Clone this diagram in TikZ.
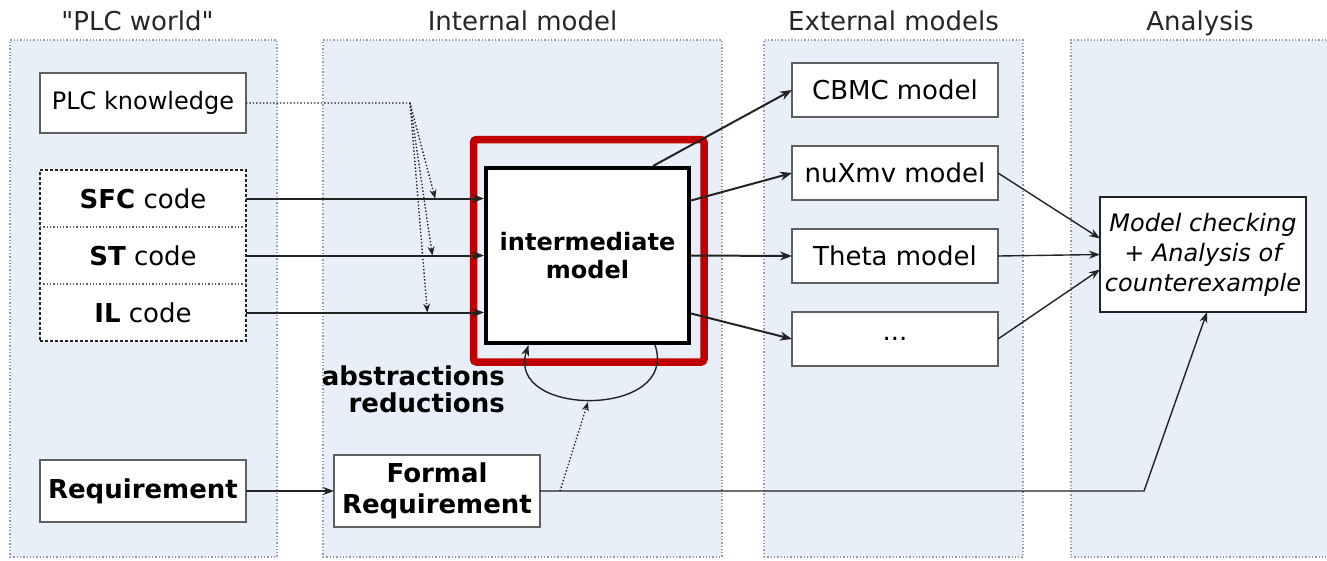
\documentclass[tikz,border=0pt]{standalone}
\usepackage{fontspec}
\setmainfont{DejaVu Sans}
\usetikzlibrary{arrows.meta, positioning, fit, calc}
\definecolor{colPanel}    {RGB}{232,239,248}
\definecolor{colPanelEdge}{RGB}{150,156,166}
\definecolor{colEdge}     {RGB}{95,95,95}
\definecolor{colLine}     {RGB}{35,35,35}
\definecolor{colHilite}   {RGB}{192,0,0}
\newcommand{\fsz}[2]{\fontsize{#1}{#2}\selectfont}
\tikzset{
  panel/.style   = {draw=colPanelEdge, dotted, line width=1.3pt, fill=colPanel,
                    inner sep=0pt},
  head/.style    = {anchor=base, inner sep=0pt, font=\fsz{26}{26}, text=black!85},
  box/.style     = {draw=colEdge, line width=1.5pt, fill=white, minimum width=206pt,
                    minimum height=57pt, inner sep=2pt, outer sep=0pt, align=center},
  codebox/.style = {box, draw=none, font=\fsz{26}{26}},
  extbox/.style  = {box, minimum height=54pt, font=\fsz{26}{26}},
  reqbox/.style  = {box, font=\bfseries\fsz{26}{31}},
  core/.style    = {draw=black, line width=4pt, fill=white, minimum width=203pt,
                    minimum height=175pt, align=center, font=\bfseries\fsz{24}{28}},
  hilite/.style  = {draw=colHilite, line width=7.5pt, rounded corners=3pt},
  arr/.style     = {-{Stealth[length=12pt, width=9pt]}, line width=2pt, colLine},
  thinarr/.style = {-{Stealth[length=11pt, width=8pt]}, line width=1.4pt, colLine},
  know/.style    = {-{Stealth[length=9pt, width=7pt]}, dotted, line width=1.4pt, colLine},
}

\begin{document}
\begin{tikzpicture}[x=1pt, y=-1pt]
\useasboundingbox (0,0) rectangle (1327,560);

%% ── panels ──────────────────────────────────────────────────────────────────
\node[panel, minimum width=267pt, minimum height=517pt] (pWorld)    at (143.5,298.5) {};
\node[panel, minimum width=399pt, minimum height=517pt] (pInternal) at (522.5,298.5) {};
\node[panel, minimum width=259pt, minimum height=517pt] (pExternal) at (893.5,298.5) {};
\node[panel, minimum width=270pt, minimum height=517pt] (pAnalysis) at (1206,298.5) {};

\node[head] (tWorld)    at ([xshift=-6pt, yshift=9pt]pWorld.north)
  {\textquotedbl PLC world\textquotedbl};
\node[head] (tInternal) at ([yshift=9pt]pInternal.north)              {Internal model};
\node[head] (tExternal) at ([yshift=9pt]pExternal.north)              {External models};
\node[head] (tAnalysis) at ([xshift=-6pt, yshift=9pt]pAnalysis.north) {Analysis};

%% ── "PLC world" ─────────────────────────────────────────────────────────────
\node[box, minimum height=60pt, font=\fsz{24}{24}] (plcKnow) at (143,103) {PLC knowledge};

\node[codebox] (sfc) at (143,198.5) {\textbf{SFC} code};
\node[codebox, below=0pt of sfc] (st) {\textbf{ST} code};
\node[codebox, below=0pt of st]  (il) {\textbf{IL} code};
\node[draw=colLine, densely dashed, line width=1.3pt, inner sep=0pt,
      fit=(sfc)(st)(il)] (code) {};
\draw[colEdge, dotted, line width=1.3pt]
  (sfc.south west) -- (sfc.south east)
  (st.south west)  -- (st.south east);

\node[reqbox, minimum height=62pt] (req) at (143,491) {Requirement};

%% ── Internal model ──────────────────────────────────────────────────────────
\node[core] (imodel) at (587.5,255.5) {intermediate\\model};
\draw[hilite] (473.5,139.5) rectangle (704,362);

\node[reqbox, minimum height=72pt] (formReq) at (437,491) {Formal\\Requirement};

\node[font=\bfseries\fsz{26}{27}, align=right, anchor=north east, inner sep=0pt]
  (absLbl) at (505,366) {abstractions\\reductions};

%% ── External models ─────────────────────────────────────────────────────────
\node[extbox] (cbmc) at (895,90) {CBMC model};
\node[extbox, below=29pt of cbmc]  (nuxmv) {nuXmv model};
\node[extbox, below=29pt of nuxmv] (theta) {Theta model};
\node[extbox, below=29pt of theta] (other) {...};

%% ── Analysis ────────────────────────────────────────────────────────────────
\node[box, draw=colLine, minimum height=115pt, font=\itshape\fsz{24}{30}]
  (analysis) at (1203,254.5) {Model checking\\+ Analysis of\\counterexample};

%% ── arrows ──────────────────────────────────────────────────────────────────
\draw[arr] (sfc.east) -- (sfc.east -| imodel.west);
\draw[arr] (st.east)  -- (st.east -| imodel.west);
\draw[arr] (il.east)  -- (il.east -| imodel.west);

% PLC knowledge feeds the three translations
\coordinate (kTurn) at (410,103);
\coordinate (kSfc) at ($(sfc.east)!0.795!(sfc.east -| imodel.west)$);
\coordinate (kSt)  at ($(st.east)!0.783!(st.east -| imodel.west)$);
\coordinate (kIl)  at ($(il.east)!0.762!(il.east -| imodel.west)$);
\draw[know] (plcKnow.east) -- (kTurn) -- (kSfc);
\draw[know] (kTurn) -- (kSt);
\draw[know] (kTurn) -- (kIl);

\draw[arr] ([xshift=-38pt]imodel.north east) -- (cbmc.west);
\draw[arr] ([yshift=55pt]imodel.east)  -- (nuxmv.west);
\draw[arr] (imodel.east)               -- (theta.west);
\draw[arr] ([yshift=-58pt]imodel.east) -- (other.west);

\draw[thinarr] (nuxmv.east) -- ([yshift=16pt]analysis.west);
\draw[thinarr] (theta.east) -- (analysis.west);
\draw[thinarr] (other.east) -- ([yshift=-15pt]analysis.west);

% abstraction loop
\draw[thinarr] ([xshift=-36pt]imodel.south east)
  .. controls (680,418) and (505,418) .. ([xshift=-59pt]imodel.south);
\coordinate (loopBot) at (588,402);

\draw[thinarr] (req.east) -- (formReq.west);
\coordinate (reqTurn) at (1144,491);
\draw[thinarr] (formReq.east) -- (reqTurn) -- ([xshift=4pt]analysis.south);
\coordinate (fLoop) at (560,491);
\draw[know] (fLoop) -- (loopBot);

\end{tikzpicture}
\end{document}
